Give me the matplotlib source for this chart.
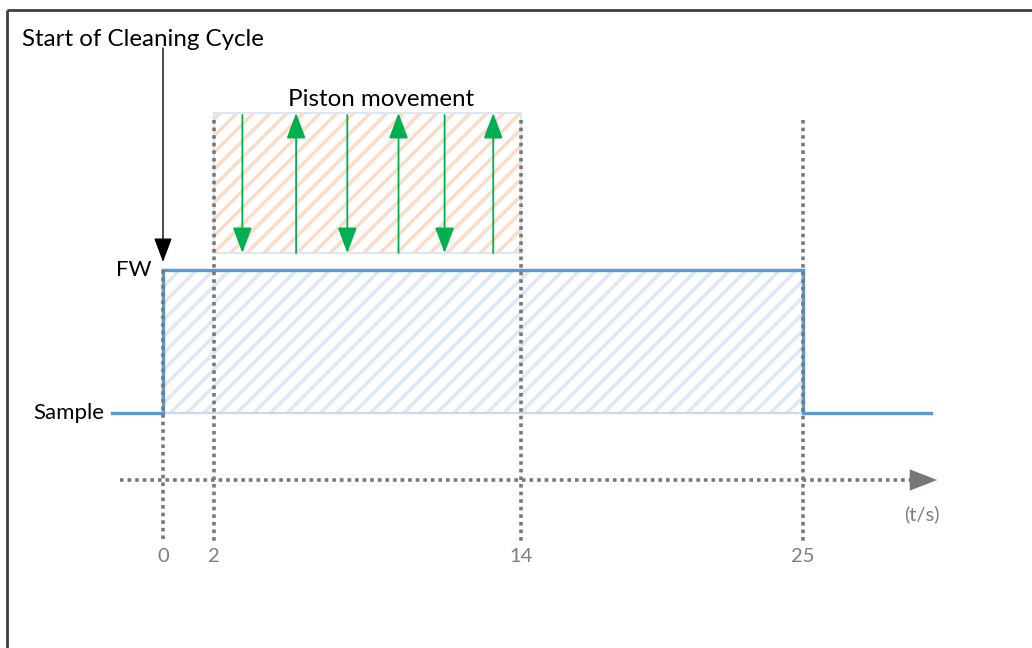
import matplotlib.pyplot as plt
from matplotlib.patches import Rectangle

plt.rcParams['font.family'] = ['Lato', 'DejaVu Sans']
plt.rcParams['hatch.linewidth'] = 2.5

# dados do diagrama (tempo em s, nível 0 = Sample, 1 = FW)
step_t = [-2.0, 0, 0, 25, 25, 30.0]
step_level = [0, 0, 1, 1, 0, 0]
level_labels = ['Sample', 'FW']
marcas_t = [0, 2, 14, 25]
piston_inicio, piston_fim = 2, 14
piston_desce = [3.1, 7.2, 11.0]
piston_sobe = [5.2, 9.2, 12.9]
titulo = 'Start of Cleaning Cycle'
titulo_piston = 'Piston movement'
unidade = '(t/s)'

azul = '#5b9bd5'
cinza = '#7a7777'
verde = '#00b050'

fig = plt.figure(figsize=(10.32, 6.48), dpi=100)
ax = fig.add_axes([0, 0, 1, 1])
ax.set_xlim(-163 / 25.6, (1032 - 163) / 25.6)
ax.set_ylim((413 - 648) / 143, 413 / 143)
ax.set_axis_off()


def py(p):
    # converte pixel vertical em nível
    return (413 - p) / 143


def px(p):
    return (p - 163) / 25.6


# moldura (só topo e esquerda aparecem)
ax.plot([px(7), px(1040)], [py(10), py(10)], color='#404040', lw=2, solid_capstyle='butt')
ax.plot([px(7), px(7)], [py(10), py(660)], color='#404040', lw=2, solid_capstyle='butt')

# retângulo hachurado azul (FW)
ax.add_patch(Rectangle((0, 0), 25, 1, facecolor='white', edgecolor='#dbe8f6',
                       hatch='//', lw=0, zorder=1))
ax.add_patch(Rectangle((0, 0), 25, 1, fill=False, edgecolor='#c5daf0', lw=1.6, zorder=1.5))

# retângulo hachurado laranja (pistão)
ax.add_patch(Rectangle((piston_inicio, py(253)), piston_fim - piston_inicio, py(113) - py(253),
                       facecolor='white', edgecolor='#fbdcc7', hatch='//', lw=0, zorder=1))
ax.add_patch(Rectangle((piston_inicio, py(253)), piston_fim - piston_inicio, py(113) - py(253),
                       fill=False, edgecolor='#dbe7f4', lw=1.4, zorder=1.5))

# linha em degrau
ax.plot(step_t, step_level, color=azul, lw=2.4, zorder=3, solid_joinstyle='miter')

# linhas pontilhadas verticais
for t in marcas_t:
    topo = py(270) if t == 0 else py(120)
    ax.plot([t, t], [topo, py(542)], color=cinza, lw=2.6, linestyle=(0, (1, 1.1)),
            dash_capstyle='butt', zorder=4)
    ax.text(t, py(557), str(t), ha='center', va='center', fontsize=14.5, color='#7f7f7f')

# eixo do tempo pontilhado com seta
ax.plot([px(120), px(922)], [py(480), py(480)], color=cinza, lw=2.6, linestyle=(0, (1, 1.1)),
        dash_capstyle='butt', zorder=4)
ax.annotate('', xy=(px(940), py(480)), xytext=(px(918), py(480)),
            arrowprops=dict(arrowstyle='-|>,head_width=0.35,head_length=0.9',
                            color=cinza, lw=0, mutation_scale=22), zorder=4)
ax.text(px(922), py(514), unidade, ha='center', va='center', fontsize=14.5, color='#7f7f7f')

# setas do pistão
for t in piston_desce:
    ax.annotate('', xy=(t, py(253)), xytext=(t, py(115)),
                arrowprops=dict(arrowstyle='-|>,head_width=0.27,head_length=0.72',
                                color=verde, lw=1.3, mutation_scale=22, shrinkA=0, shrinkB=0),
                zorder=5)
for t in piston_sobe:
    ax.annotate('', xy=(t, py(113)), xytext=(t, py(253)),
                arrowprops=dict(arrowstyle='-|>,head_width=0.27,head_length=0.72',
                                color=verde, lw=1.3, mutation_scale=22, shrinkA=0, shrinkB=0),
                zorder=5)

# seta preta do início do ciclo
ax.annotate('', xy=(0, py(262)), xytext=(0, py(48)),
            arrowprops=dict(arrowstyle='-|>,head_width=0.28,head_length=0.75',
                            color='black', lw=1, mutation_scale=20, shrinkA=0, shrinkB=0),
            zorder=5)

# textos
ax.text(px(22), py(40), titulo, ha='left', va='center', fontsize=17.4, color='black')
ax.text(px(381), py(100), titulo_piston, ha='center', va='center', fontsize=17.4, color='black')
ax.text(px(151), 1, level_labels[1], ha='right', va='center', fontsize=16, color='black')
ax.text(px(104), 0, level_labels[0], ha='right', va='center', fontsize=16, color='black')

fig.savefig('out.png', dpi=100)
